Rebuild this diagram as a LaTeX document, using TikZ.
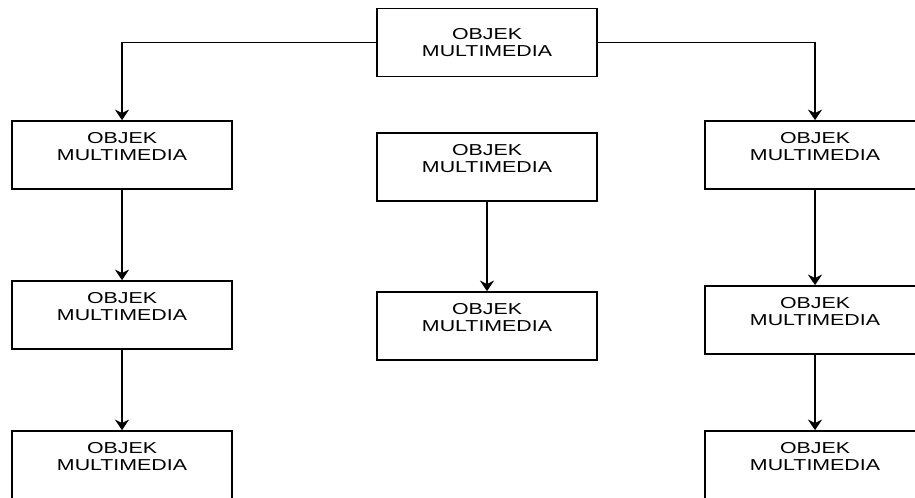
\documentclass[tikz,border=0pt]{standalone}
\usepackage{fontspec}
\newfontfamily\boxfont[FakeStretch=1.35]{Liberation Sans}
\usetikzlibrary{arrows.meta}

\begin{document}
\begin{tikzpicture}[x=0.02cm, y=-0.02cm,
    obj/.style={draw, line width=1pt, minimum width=4.4cm, minimum height=1.36cm,
        align=center, font=\boxfont\fontsize{9}{9.8}\selectfont, text depth=10pt},
    link/.style={-{Stealth[length=6pt,width=8pt]}, line width=1pt}]
    \useasboundingbox (0,0) rectangle (915,497);
    \node[obj, text depth=0pt] (top) at (487,42.5) {OBJEK\\MULTIMEDIA};
    \node[obj] (l1) at (122,155) {OBJEK\\MULTIMEDIA};
    \node[obj] (l2) at (122,315) {OBJEK\\MULTIMEDIA};
    \node[obj] (l3) at (122,465) {OBJEK\\MULTIMEDIA};
    \node[obj] (m1) at (487,167) {OBJEK\\MULTIMEDIA};
    \node[obj] (m2) at (487,326) {OBJEK\\MULTIMEDIA};
    \node[obj] (r1) at (815,155) {OBJEK\\MULTIMEDIA};
    \node[obj] (r2) at (815,320) {OBJEK\\MULTIMEDIA};
    \node[obj] (r3) at (815,465) {OBJEK\\MULTIMEDIA};
    \draw[link] (top.west) -| (l1.north);
    \draw[link] (top.east) -| (r1.north);
    \draw[link] (l1) -- (l2);
    \draw[link] (l2) -- (l3);
    \draw[link] (m1) -- (m2);
    \draw[link] (r1) -- (r2);
    \draw[link] (r2) -- (r3);
\end{tikzpicture}
\end{document}
